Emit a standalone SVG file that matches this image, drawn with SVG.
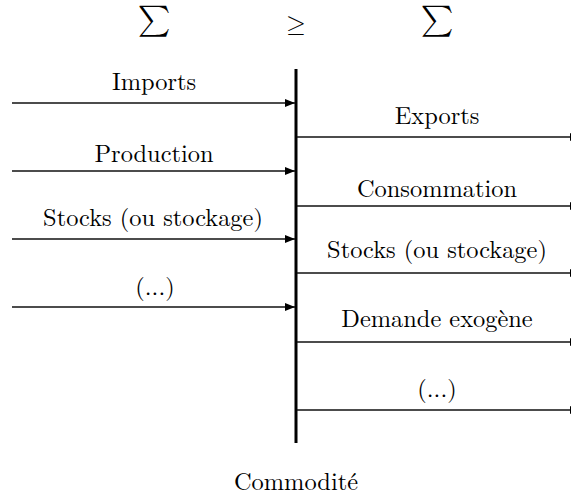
<svg xmlns="http://www.w3.org/2000/svg" width="571" height="498" viewBox="0 0 571 498">
<defs>
<style>
text{fill:#000;text-anchor:middle;font-family:'Latin Modern Roman','Liberation Serif',serif;font-size:24.4px}
.sym{font-family:'Latin Modern Math','Latin Modern Roman','Liberation Serif',serif;font-size:31px}
.ln{stroke:#111;stroke-width:1.3;fill:none}
</style>
<marker id="ah" markerWidth="10" markerHeight="8" refX="10" refY="4" orient="auto" markerUnits="userSpaceOnUse">
<path d="M0,0 L10,4 L0,8 Z" fill="#000"/>
</marker>
</defs>
<rect width="571" height="498" fill="#fff"/>
<g id="header">
<text class="sym" x="154" y="29">∑</text>
<text class="sym" x="296" y="32" style="font-size:25px">≥</text>
<text class="sym" x="437" y="29">∑</text>
</g>
<g id="commodite">
<line x1="296" y1="69" x2="296" y2="443" stroke="#000" stroke-width="3"/>
<text x="296" y="490">Commodité</text>
</g>
<g id="connectors">
<line class="ln" x1="12" y1="103" x2="295" y2="103" marker-end="url(#ah)"/>
<line class="ln" x1="12" y1="171" x2="295" y2="171" marker-end="url(#ah)"/>
<line class="ln" x1="12" y1="239" x2="295" y2="239" marker-end="url(#ah)"/>
<line class="ln" x1="12" y1="307" x2="295" y2="307" marker-end="url(#ah)"/>
<line class="ln" x1="297" y1="137" x2="580" y2="137" marker-end="url(#ah)"/>
<line class="ln" x1="297" y1="206" x2="580" y2="206" marker-end="url(#ah)"/>
<line class="ln" x1="297" y1="273" x2="580" y2="273" marker-end="url(#ah)"/>
<line class="ln" x1="297" y1="342" x2="580" y2="342" marker-end="url(#ah)"/>
<line class="ln" x1="297" y1="410" x2="580" y2="410" marker-end="url(#ah)"/>
</g>
<g id="in-imports"><text x="154" y="90">Imports</text></g>
<g id="in-production"><text x="154" y="162">Production</text></g>
<g id="in-stocks"><text x="153" y="226">Stocks (ou stockage)</text></g>
<g id="in-other"><text x="155" y="295">(...)</text></g>
<g id="out-exports"><text x="437" y="124">Exports</text></g>
<g id="out-consommation"><text x="437" y="197">Consommation</text></g>
<g id="out-stocks"><text x="437" y="258">Stocks (ou stockage)</text></g>
<g id="out-demande"><text x="437" y="327">Demande exogène</text></g>
<g id="out-other"><text x="437" y="397">(...)</text></g>
</svg>
